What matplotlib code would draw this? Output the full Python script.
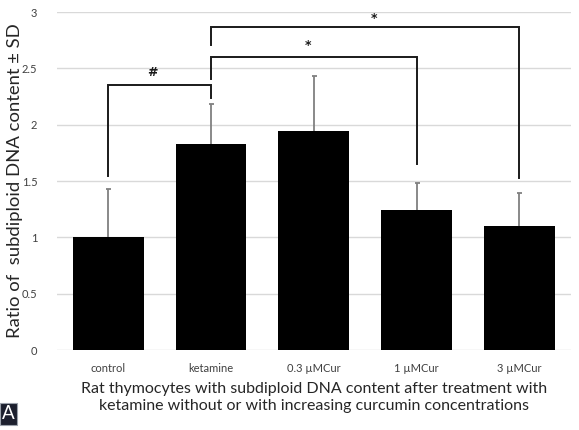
import matplotlib
matplotlib.use("Agg")
import matplotlib.pyplot as plt

categories = ["control", "ketamine", "0.3 \u00b5MCur", "1 \u00b5MCur", "3 \u00b5MCur"]
values = [1.00, 1.83, 1.945, 1.24, 1.10]
sd = [0.43, 0.35, 0.485, 0.24, 0.29]
yticks = [0, 0.5, 1, 1.5, 2, 2.5, 3]
ytick_labels = ["0", "0.5", "1", "1.5", "2", "2.5", "3"]

# significance brackets: (left idx, right idx, left leg bottom, right leg bottom, top, label, label x, label y)
brackets = [
    (0, 1, 1.545, 2.235, 2.35, "#", 0.43, 2.46),
    (1, 3, 2.41, 1.648, 2.60, "*", 1.94, 2.70),
    (1, 4, 2.706, 1.53, 2.87, "*", 2.59, 2.94),
]

plt.rcParams['font.family'] = ['Lato', 'DejaVu Sans']
fig = plt.figure(figsize=(5.79, 4.30), dpi=100)
ax = fig.add_axes([0.098, 0.186, 0.888, 0.786])

x = list(range(len(categories)))
ax.bar(x, values, width=0.69, color="black", zorder=3)
eb = ax.errorbar(x, values, yerr=[[0]*len(sd), sd], fmt="none", ecolor="#808080",
                 elinewidth=1.3, capsize=1.8, capthick=1.3, zorder=2)
eb[1][0].set_visible(False)

for li, ri, lb, rb, top, lab, lx, ly in brackets:
    ax.plot([li, li, ri, ri], [lb, top, top, rb], color="#1a1a1a", lw=1.4,
            solid_joinstyle="miter", zorder=4)
    ax.text(lx, ly, lab, ha="center", va="center", fontsize=9, fontweight="bold",
            color="#1a1a1a", family="DejaVu Sans")

ax.set_xlim(-0.5, 4.5)
ax.set_ylim(0, 3)
ax.set_yticks(yticks)
ax.set_yticklabels(ytick_labels)
ax.set_xticks(x)
ax.set_xticklabels(categories)
ax.grid(axis="y", color="#d9d9d9", lw=1.0, zorder=0)
ax.set_axisbelow(True)
for s in ["top", "right", "left", "bottom"]:
    ax.spines[s].set_visible(False)
ax.tick_params(axis="both", length=0, labelsize=8, colors="#404040")
ax.tick_params(axis="x", pad=9)
ax.tick_params(axis="y", pad=14)

ax.set_ylabel("Ratio of  subdiploid DNA content \u00b1 SD", fontsize=13.3, color="#262626",
              labelpad=-1)
ax.set_xlabel("Rat thymocytes with subdiploid DNA content after treatment with\n"
              "ketamine without or with increasing curcumin concentrations",
              fontsize=11.5, color="#262626", linespacing=1.3, labelpad=6)

fig.text(0.004, 0.018, "A", fontsize=13.5, color="white", ha="left", va="bottom",
         bbox=dict(boxstyle="square,pad=0.12", fc="#1c1f2e", ec="#9aa0aa", lw=0.8))

fig.savefig("out.png", dpi=100)
